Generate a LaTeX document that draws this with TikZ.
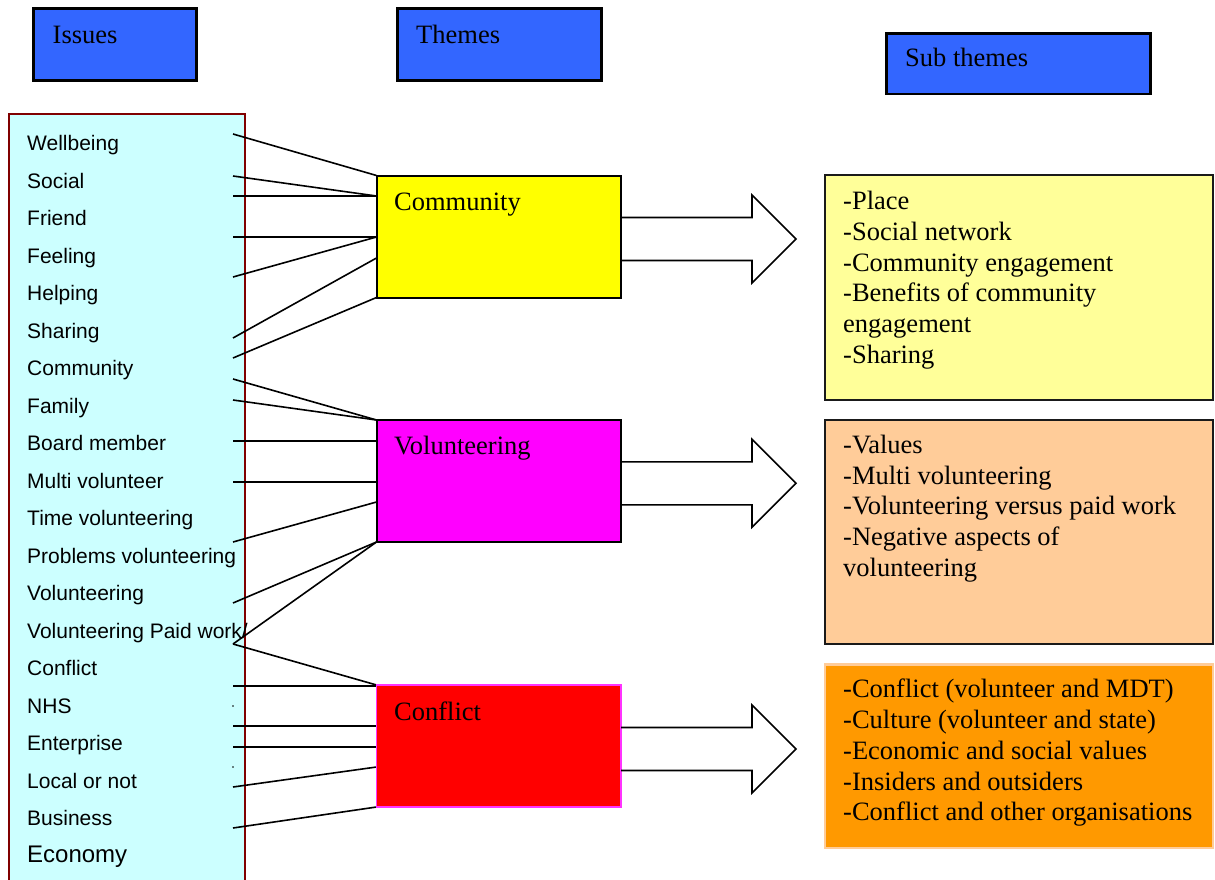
\documentclass[tikz,border=0pt]{standalone}
\usepackage{fontspec}
\setmainfont{Liberation Serif}
\newfontfamily\listfont{Liberation Sans}
\usetikzlibrary{calc}

\definecolor{hdrblue}{HTML}{3366FF}
\definecolor{listfill}{HTML}{CCFFFF}
\definecolor{listedge}{HTML}{800000}
\definecolor{comfill}{HTML}{FFFF00}
\definecolor{volfill}{HTML}{FF00FF}
\definecolor{confill}{HTML}{FF0000}
\definecolor{conedge}{HTML}{FF33FF}
\definecolor{subA}{HTML}{FFFF99}
\definecolor{subB}{HTML}{FFCC99}
\definecolor{subC}{HTML}{FF9900}
\definecolor{boxedge}{HTML}{1A1A1A}

\tikzset{
  header/.style={draw=black, line width=2.2pt, fill=hdrblue, anchor=north west, inner sep=0pt, outer sep=0pt},
  serif/.style={anchor=base west, inner sep=0pt, font=\fontsize{26.5}{30.8}\selectfont},
  issue/.style={anchor=base west, inner sep=0pt, font=\listfont\fontsize{21}{24}\selectfont},
  theme/.style={draw=black, line width=2pt, anchor=north west, inner sep=0pt, outer sep=0pt,
                minimum width=244.5pt, minimum height=122pt},
  subbox/.style={draw=boxedge, line width=2pt, anchor=north west, inner sep=0pt, outer sep=0pt,
                 minimum width=388pt},
  link/.style={draw=black, line width=1.6pt},
  fatarrow/.pic={\draw[black, line width=1.6pt, line join=miter]
     (0,-21.5) -- (131,-21.5) -- (131,-44) -- (175,0) -- (131,44) -- (131,21.5) -- (0,21.5);}
}

\begin{document}
\begin{tikzpicture}[x=1pt, y=-1pt]
\useasboundingbox (0,0) rectangle (1215,880);

% column headers
\node[header, minimum width=163pt, minimum height=72pt] (hiss) at (33.5,8.5) {};
\node[serif] (tiss) at ($(hiss.north west)+(19,35)$) {Issues};
\node[header, minimum width=204pt, minimum height=72pt] (hthm) at (397.5,8.5) {};
\node[serif] (tthm) at ($(hthm.north west)+(18.5,35)$) {Themes};
\node[header, minimum width=264pt, minimum height=60.5pt] (hsub) at (886.5,33.5) {};
\node[serif] (tsub) at ($(hsub.north west)+(18.5,33.2)$) {Sub themes};

% list of issues (open at the bottom)
\node[fill=listfill, anchor=north west, inner sep=0pt, outer sep=0pt, minimum width=236pt, minimum height=766pt] (list) at (9,114) {};
\draw[listedge, line width=2pt] (list.south west) -- (list.north west) -- (list.north east) -- (list.south east);

\foreach \t [count=\i] in {Wellbeing, Social, Friend, Feeling, Helping, Sharing, Community,
    Family, Board member, Multi volunteer, Time volunteering, Problems volunteering,
    Volunteering, Volunteering Paid work/, Conflict, NHS, Enterprise, Local or not, Business}
  \node[issue] (i\i) at (27,{150.7+37.5*(\i-1)}) {\t};
\node[issue, font=\listfont\fontsize{24}{27}\selectfont] (i20) at (27,862.7) {Economy};

% theme boxes
\node[theme, fill=comfill] (com) at (376.5,175.5) {};
\node[theme, fill=volfill] (vol) at (376.5,420) {};
\node[theme, fill=confill, draw=conedge, line width=1.6pt] (con) at (376.5,685) {};

% free ends of the connectors inside the list
\coordinate (p1) at (233,134);
\coordinate (p2) at (233,176);
\coordinate (p3) at (233,196);
\coordinate (p4) at (233,237);
\coordinate (p5) at (233,277);
\coordinate (p6) at (233,338);
\coordinate (p7) at (233,358);
\coordinate (p8) at (233,379);
\coordinate (p9) at (233,400);
\coordinate (p10) at (233,441);
\coordinate (p11) at (233,482);
\coordinate (p12) at (233,542);
\coordinate (p13) at (233,603);
\coordinate (p14) at (233,644);
\coordinate (p15) at (233,686);
\coordinate (p16) at (233,726);
\coordinate (p17) at (233,747);
\coordinate (p18) at (233,787);
\coordinate (p19) at (233,828);
\coordinate (d1) at (233,706);
\coordinate (d2) at (233,767);

% connectors to Community
\draw[link] (p1) -- (com.north west);
\draw[link] (p2) -- ($(com.north west)+(0,20.5)$);
\draw[link] (p3) -- ($(com.north west)+(0,20.5)$);
\draw[link] (p4) -- ($(com.north west)+(0,61.5)$);
\draw[link] (p5) -- ($(com.north west)+(0,61.5)$);
\draw[link] (p6) -- ($(com.north west)+(0,82.5)$);
\draw[link] (p7) -- (com.south west);

% connectors to Volunteering
\draw[link] (p8) -- (vol.north west);
\draw[link] (p9) -- (vol.north west);
\draw[link] (p10) -- ($(vol.north west)+(0,21)$);
\draw[link] (p11) -- ($(vol.north west)+(0,62)$);
\draw[link] (p12) -- ($(vol.north west)+(0,82)$);
\draw[link] (p13) -- (vol.south west);
\draw[link] (vol.south west) -- (p14);

% connectors to Conflict
\draw[link] (p14) -- (con.north west);
\draw[link] (p15) -- ($(con.north west)+(0,1)$);
\draw[link] (p16) -- ($(con.north west)+(0,41)$);
\draw[link] (p17) -- ($(con.north west)+(0,62)$);
\draw[link] (p18) -- ($(con.north west)+(0,82)$);
\draw[link] (p19) -- (con.south west);
\fill (d1) circle (0.9);
\fill (d2) circle (0.9);

% redraw box outlines over the connector ends
\node[theme, fill=comfill] at (376.5,175.5) {};
\node[theme, fill=volfill] at (376.5,420) {};
\node[theme, fill=confill, draw=conedge, line width=1.6pt] at (376.5,685) {};
\node[serif] (tcom) at ($(com.north west)+(17.5,35.2)$) {Community};
\node[serif] (tvol) at ($(vol.north west)+(17.5,34.3)$) {Volunteering};
\node[serif] (tcon) at ($(con.north west)+(17.5,35.7)$) {Conflict};

% block arrows
\pic at ($(com.east)+(0,2.5)$) {fatarrow};
\pic at ($(vol.east)+(0,2.3)$) {fatarrow};
\pic at ($(con.east)+(0,3)$) {fatarrow};

% sub theme boxes
\node[subbox, fill=subA, minimum height=225pt] (sa) at (825,175) {};
\node[subbox, fill=subB, minimum height=224pt] (sb) at (825,420) {};
\node[subbox, fill=subC, draw=subB, line width=2.4pt, minimum height=183.5pt] (sc) at (825,664.5) {};

\node[serif] (ta) at (843,209.5) {\parbox[t]{365pt}{-Place\\-Social network\\-Community engagement\\-Benefits of community\\engagement\\-Sharing}};
\node[serif] (tb) at (843,453.3) {\parbox[t]{365pt}{-Values\\-Multi volunteering\\-Volunteering versus paid work\\-Negative aspects of\\volunteering}};
\node[serif] (tc) at (843,697.7) {\parbox[t]{365pt}{-Conflict (volunteer and MDT)\\-Culture (volunteer and state)\\-Economic and social values\\-Insiders and outsiders\\-Conflict and other organisations}};
\end{tikzpicture}
\end{document}
